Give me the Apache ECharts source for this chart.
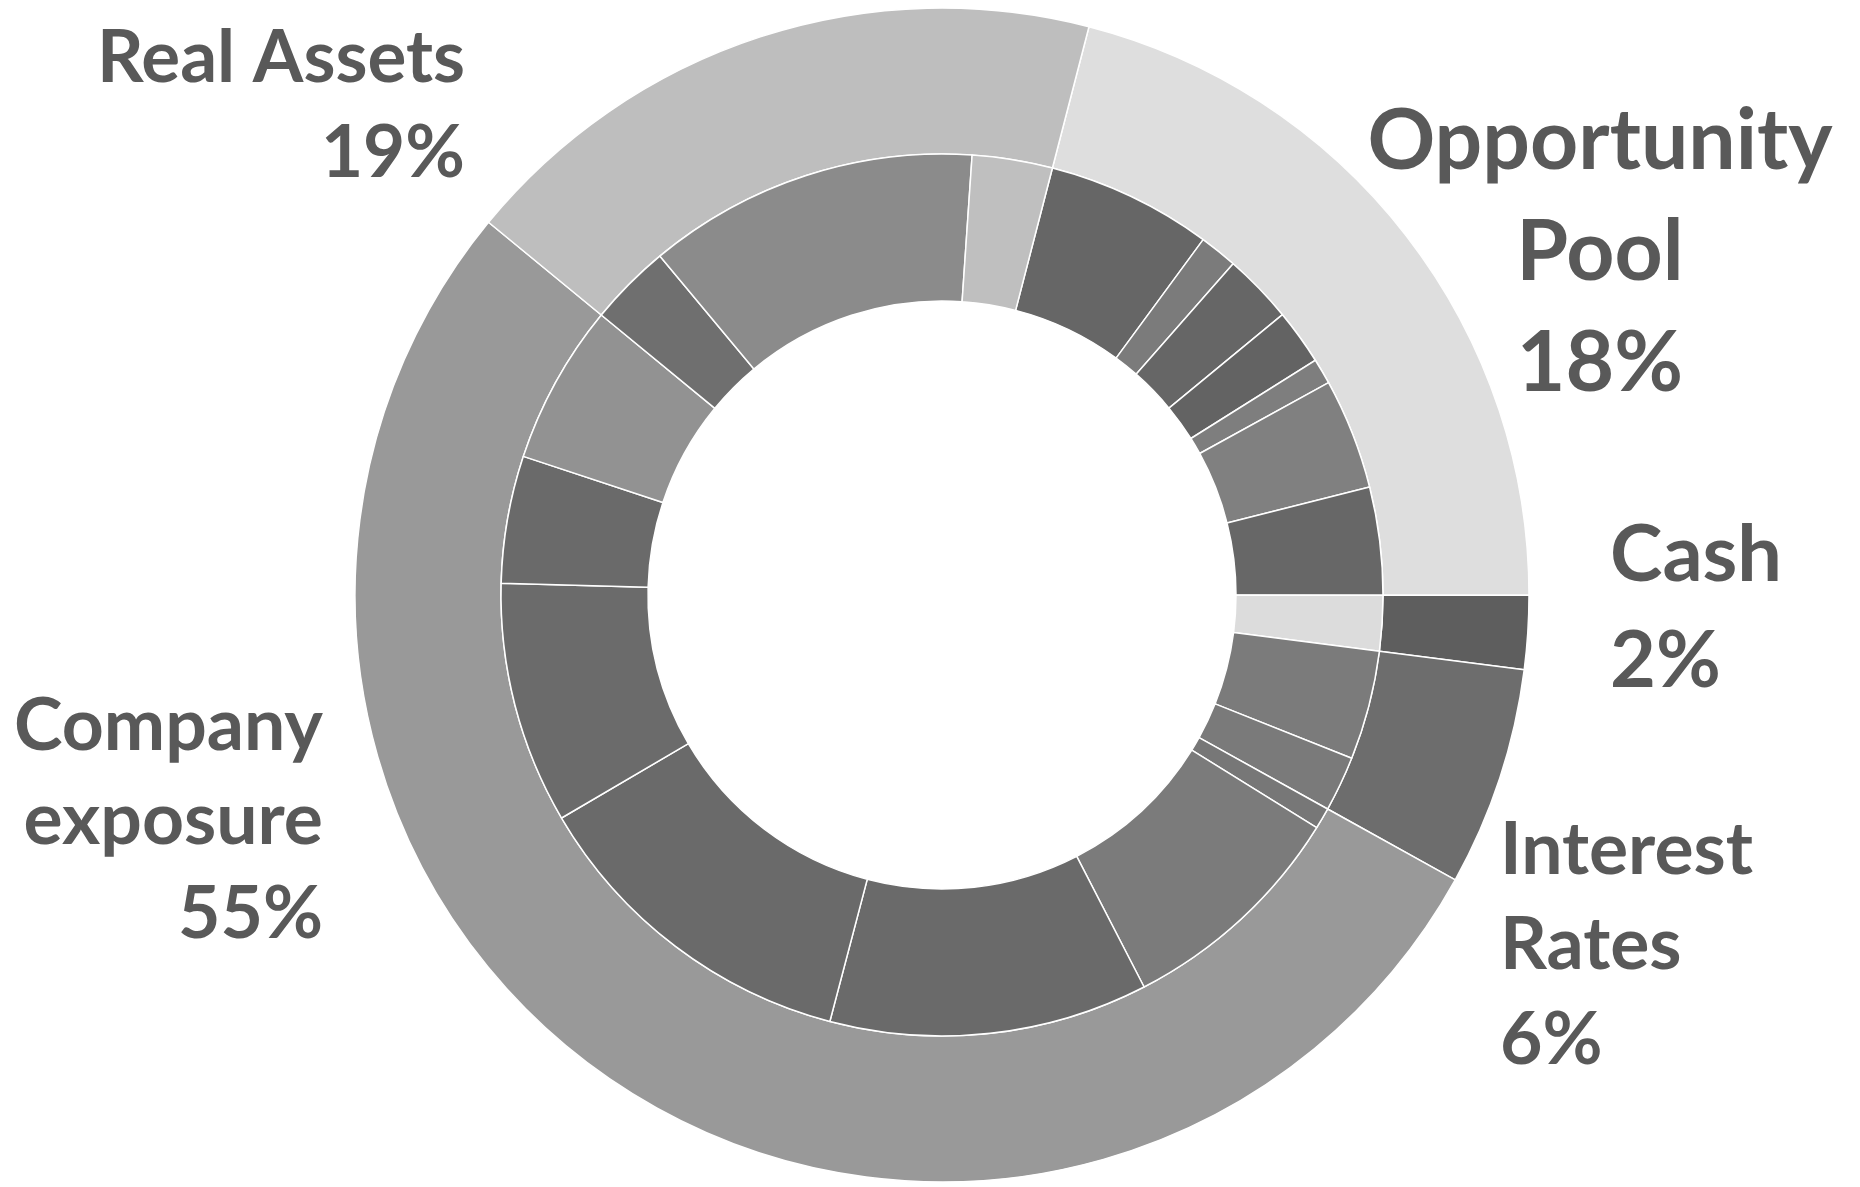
<!DOCTYPE html>
<html><head><meta charset="utf-8">
<script src="https://cdn.jsdelivr.net/npm/echarts@6/dist/echarts.min.js"></script>
<style>html,body{margin:0;padding:0;background:#fff}#chart{width:1860px;height:1187px}</style>
</head><body><div id="chart"></div>
<script>
// ---- data (percent of portfolio) ----
const categories = ['Opportunity Pool', 'Cash', 'Interest Rates', 'Company exposure', 'Real Assets'];
const shareLabels = ['18%', '2%', '6%', '55%', '19%'];
const opportunityParts = [6.06, 1.39, 2.56, 2.03, 0.94, 4.06, 3.94];
const cashParts = [2.03];
const interestParts = [4.00, 2.03];
const companyParts = [0.78, 8.58, 11.67, 12.47, 8.86, 4.67, 5.86];
const realAssetParts = [3.00, 12.14, 2.94];
const subParts = [opportunityParts, cashParts, interestParts, companyParts, realAssetParts];

// ---- styles ----
const outerColors = ['#dedede', '#5e5e5e', '#6d6d6d', '#999999', '#bebebe'];
const innerColors = [
  ['#666666', '#7b7b7b', '#666666', '#636363', '#7e7e7e', '#808080', '#676767'],
  ['#dcdcdc'],
  ['#7b7b7b', '#7a7a7a'],
  ['#777777', '#7b7b7b', '#6a6a6a', '#6a6a6a', '#6b6b6b', '#6a6a6a', '#929292'],
  ['#6f6f6f', '#8b8b8b', '#bfbfbf']
];
const layout = {
  center: [942, 595], innerRadius: [294, 441], outerRadius: [441, 587],
  startAngle: 75.5, textColor: '#595959', fontFamily: 'Lato', baselineK: 0.36
};
const labelLayout = [
  { wrap: true,  x: 1600, align: 'center', baseline: 172, lineHeight: 111, width: 465 },
  { wrap: false, x: 1610, align: 'left',   baseline: 584, lineHeight: 106, width: 172 },
  { wrap: true,  x: 1500, align: 'left',   baseline: 877, lineHeight: 95,  width: 253 },
  { wrap: true,  x: 323,  align: 'right',  baseline: 753, lineHeight: 94,  width: 309 },
  { wrap: false, x: 465,  align: 'right',  baseline: 85,  lineHeight: 95,  width: 368 }
];

// ---- build ----
const outerData = categories.map((c, i) => ({
  name: c,
  value: subParts[i].reduce((a, b) => a + b, 0),
  itemStyle: { color: outerColors[i] }
}));
const innerData = [];
subParts.forEach((parts, i) => parts.forEach((v, j) => innerData.push({
  name: categories[i] + ' ' + (j + 1), value: v, itemStyle: { color: innerColors[i][j] }
})));

const measureCtx = document.createElement('canvas').getContext('2d');
function fitSize(line, width) {
  measureCtx.font = 'bold 100px ' + layout.fontFamily;
  return 100 * width / measureCtx.measureText(line).width;
}
const graphics = categories.map((c, i) => {
  const L = labelLayout[i];
  const first = L.wrap ? c.split(' ')[0] : c;
  const lines = L.wrap ? c.replace(' ', '\n') : c;
  const size = fitSize(first, L.width);
  const top = L.baseline - L.lineHeight / 2 - layout.baselineK * size;
  return {
    type: 'text', x: L.x, y: top, silent: true,
    style: {
      text: lines + '\n' + shareLabels[i],
      font: 'bold ' + size.toFixed(1) + 'px ' + layout.fontFamily,
      fill: layout.textColor, align: L.align, verticalAlign: 'top', lineHeight: L.lineHeight
    }
  };
});

const pieCommon = {
  type: 'pie', center: layout.center, startAngle: layout.startAngle, clockwise: true,
  silent: true, avoidLabelOverlap: false, label: { show: false }, labelLine: { show: false },
  emphasis: { disabled: true }, animation: false,
  itemStyle: { borderColor: '#ffffff', borderWidth: 1.5 }
};
const chart = echarts.init(document.getElementById('chart'), null, { renderer: 'canvas' });
chart.setOption({
  backgroundColor: '#ffffff',
  animation: false,
  series: [
    Object.assign({}, pieCommon, { name: 'Outer', radius: layout.outerRadius, data: outerData }),
    Object.assign({}, pieCommon, { name: 'Inner', radius: layout.innerRadius, data: innerData })
  ],
  graphic: graphics
});
</script></body></html>
